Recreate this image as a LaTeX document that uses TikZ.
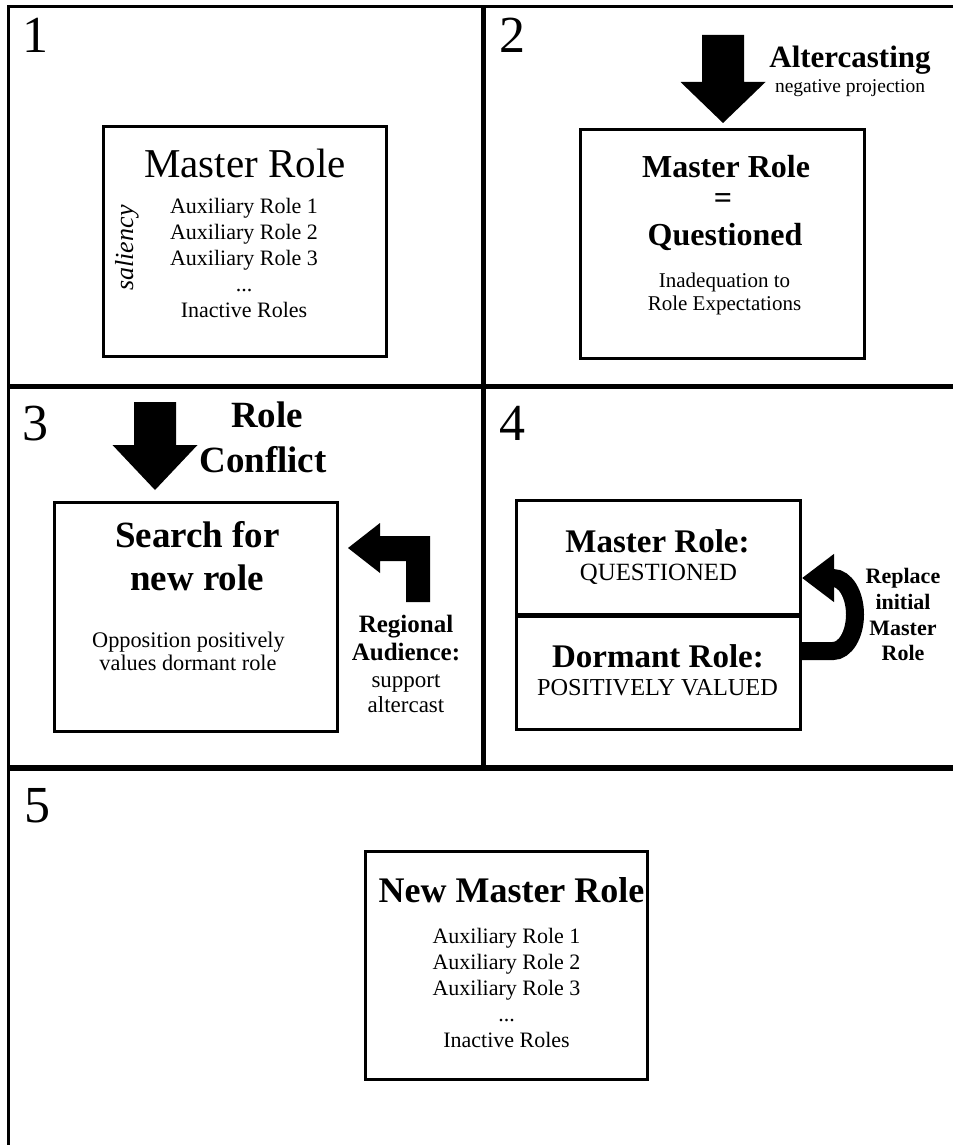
\documentclass[tikz,border=0pt]{standalone}
\usepackage{fontspec}
\setmainfont{Liberation Serif}
\usetikzlibrary{arrows.meta}

\newcommand{\fsz}[1]{\fontsize{#1}{#1}\selectfont}
% five lines of roles, #1 name prefix, #2 x, #3 first baseline
\newcommand{\rolelist}[3]{%
  \node[txt=22] (#1a) at (#2,#3) {Auxiliary Role 1};
  \node[txt=22] (#1b) at (#2,#3+26) {Auxiliary Role 2};
  \node[txt=22] (#1c) at (#2,#3+52) {Auxiliary Role 3};
  \node[txt=22] (#1d) at (#2,#3+78) {...};
  \node[txt=22] (#1e) at (#2,#3+104) {Inactive Roles};
}

\tikzset{
  pics/bigdown/.style={code={%
    \fill (0,0) -- (-42.5,-#1) -- (-21,-#1) -- (-21,-88) -- (21,-88)
      -- (21,-#1) -- (42.5,-#1) -- cycle;}},
}

\begin{document}
\begin{tikzpicture}[x=1pt,y=-1pt,
    every node/.style={inner sep=0pt},
    txt/.style={anchor=base,font=\fsz{#1}},
    btxt/.style={anchor=base,font=\fsz{#1}\bfseries},
    num/.style={anchor=base,font=\fsz{52}},
    rolebox/.style={draw,line width=3pt,anchor=center},
    divider/.style={line width=5pt}]
  \useasboundingbox (0,0) rectangle (953,1145);

  % frame and panels
  \draw[line width=3pt] (8,1145) -- (8,6.5) -- (953,6.5);
  \draw[divider] (8,386) -- (953,386);
  \draw[divider] (483,6.5) -- (483,768);
  \draw[divider,line width=6pt] (8,768) -- (953,768);

  \node[num] (n1) at (36,53) {1};
  \node[num] (n2) at (512,53) {2};
  \node[num] (n3) at (36,440) {3};
  \node[num] (n4) at (512,440) {4};
  \node[num] (n5) at (37,822) {5};

  % 1
  \node[rolebox,minimum width=283pt,minimum height=230pt] (box1) at (245,241.5) {};
  \node[txt=41] (mr1) at (245,177) {Master Role};
  \rolelist{r1}{244}{213}
  \node[font=\fsz{26}\itshape,rotate=90] (sal) at (127,248) {saliency};

  % 2
  \node[rolebox,minimum width=284pt,minimum height=229pt] (box2) at (722.5,244) {};
  \pic at (723,123) {bigdown=41};
  \node[btxt=31] (alt) at (850,68) {Altercasting};
  \node[txt=19.5] (neg) at (850,93) {negative projection};
  \node[btxt=32] (mr2) at (726,177) {Master Role};
  \node[btxt=32] (eq) at (723,208) {=};
  \node[btxt=32] (qu) at (725,245) {Questioned};
  \node[txt=21] (inad) at (724.5,287) {Inadequation to};
  \node[txt=21] (expt) at (724.5,310) {Role Expectations};

  % 3
  \node[rolebox,minimum width=283pt,minimum height=229pt] (box3) at (196,617) {};
  \pic at (155,490) {bigdown=45};
  \node[btxt=37] (rc1) at (267,427) {Role};
  \node[btxt=37] (rc2) at (263,472) {Conflict};
  \node[btxt=37] (sf1) at (197.5,547) {Search for};
  \node[btxt=37] (sf2) at (197,590) {new role};
  \node[txt=22.3] (op1) at (188.5,647) {Opposition positively};
  \node[txt=22.3] (op2) at (188,670) {values dormant role};
  \coordinate (ra) at (348,548);
  \fill (ra) -- (380,523) -- (380,536) -- (430,536) -- (430,602) -- (406,602)
    -- (406,561) -- (380,561) -- (380,573) -- cycle;
  \node[btxt=25] (reg1) at (406,632) {Regional};
  \node[btxt=25] (reg2) at (406,660) {Audience:};
  \node[txt=23] (reg3) at (406,687) {support};
  \node[txt=23] (reg4) at (406,712) {altercast};

  % 4
  \node[rolebox,minimum width=284pt,minimum height=113.5pt] (mast) at (658.5,557.25) {};
  \node[rolebox,minimum width=284pt,minimum height=113.5pt] (dorm) at (658.5,672.75) {};
  \node[btxt=33] (mr4) at (657.5,552) {Master Role:};
  \node[txt=24.8] (q4) at (658.5,580) {QUESTIONED};
  \node[btxt=33] (dr4) at (658,667) {Dormant Role:};
  \node[txt=24.3] (pv4) at (657.5,695) {POSITIVELY VALUED};
  \coordinate (c0) at (dorm.east |- 0,651);
  \coordinate (c1) at (mast.east |- 0,578);
  \draw[line width=18pt,-{Triangle[length=32pt,width=46pt]}] (c0) -- ++(31,0)
    arc[start angle=-90,end angle=90,x radius=22pt,y radius=36.5pt] -- (c1);
  \node[btxt=22] (rp1) at (903,583) {Replace};
  \node[btxt=22] (rp2) at (903,609) {initial};
  \node[btxt=22] (rp3) at (903,635) {Master};
  \node[btxt=22] (rp4) at (903,660) {Role};

  % 5
  \node[rolebox,minimum width=282pt,minimum height=228pt] (box5) at (506.5,965.5) {};
  \node[btxt=36] (nmr) at (511.5,902) {New Master Role};
  \rolelist{r5}{506.5}{943}
\end{tikzpicture}
\end{document}
